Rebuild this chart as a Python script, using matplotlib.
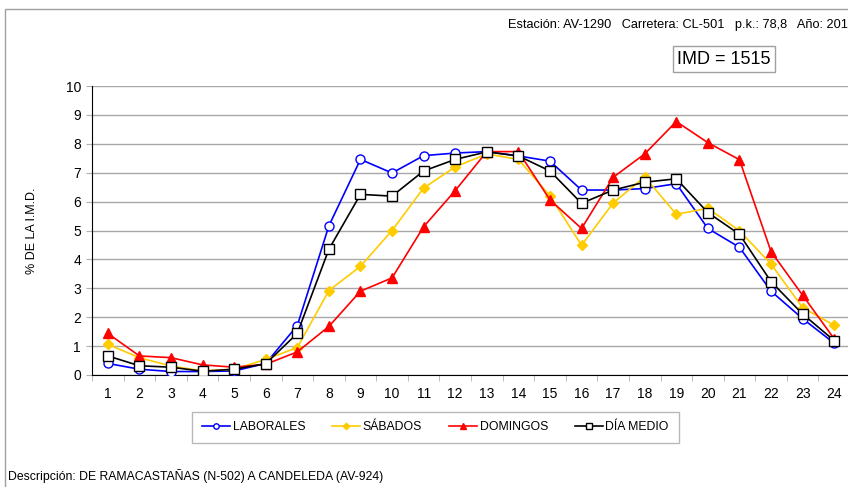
import numpy as np
import matplotlib
matplotlib.use("Agg")
from matplotlib import pyplot as plt
from matplotlib.patches import Rectangle

plt.rcParams["font.family"] = ["Liberation Sans", "DejaVu Sans"]

# Hourly traffic share (% of IMD)
hours = list(range(1, 25))
laborales = [0.40, 0.20, 0.12, 0.12, 0.14, 0.40, 1.71, 5.16, 7.46, 6.99, 7.59, 7.68,
             7.73, 7.58, 7.40, 6.40, 6.40, 6.45, 6.62, 5.07, 4.42, 2.90, 1.95, 1.10]
sabados = [1.06, 0.60, 0.31, 0.14, 0.20, 0.54, 0.95, 2.92, 3.76, 5.00, 6.47, 7.20,
           7.65, 7.46, 6.20, 4.49, 5.95, 6.86, 5.56, 5.77, 4.99, 3.84, 2.33, 1.72]
domingos = [1.44, 0.66, 0.60, 0.35, 0.27, 0.37, 0.80, 1.68, 2.90, 3.36, 5.13, 6.38,
            7.73, 7.73, 6.06, 5.07, 6.84, 7.65, 8.77, 8.04, 7.45, 4.27, 2.76, 1.25]
dia_medio = [0.66, 0.32, 0.27, 0.13, 0.20, 0.39, 1.44, 4.35, 6.25, 6.19, 7.06, 7.46,
             7.72, 7.58, 7.06, 5.94, 6.40, 6.67, 6.79, 5.62, 4.87, 3.23, 2.11, 1.19]

header = "Estación: AV-1290   Carretera: CL-501   p.k.: 78,8   Año: 201"
imd_text = "IMD = 1515"
descripcion = "Descripción: DE RAMACASTAÑAS (N-502) A CANDELEDA (AV-924)"

W, H = 848, 487
fig = plt.figure(figsize=(W / 100, H / 100), dpi=100)
fig.patches.append(Rectangle((5 / W, -0.1), 1.2, 1.1 - 9 / H, transform=fig.transFigure,
                             fill=False, edgecolor="#a0a0a0", linewidth=1.0))

ax = fig.add_axes([92 / W, 1 - 375 / H, 758 / W, 289 / H])

ax.plot(hours, laborales, color="#0000ff", lw=1.2, marker="o", ms=6.5,
        mfc="white", mec="#0000ff", mew=1.0, label="LABORALES", zorder=3)
ax.plot(hours, sabados, color="#ffcc00", lw=1.2, marker="D", ms=5.5,
        mfc="#ffcc00", mec="#ffcc00", label="SÁBADOS", zorder=3)
ax.plot(hours, domingos, color="#ff0000", lw=1.2, marker="^", ms=7,
        mfc="#ff0000", mec="#ff0000", label="DOMINGOS", zorder=3)
ax.plot(hours, dia_medio, color="black", lw=1.2, marker="s", ms=7,
        mfc="white", mec="black", mew=1.0, label="DÍA MEDIO", zorder=4)

ax.set_xlim(0.5, 24.5)
ax.set_ylim(0, 10)
ax.set_yticks(range(0, 11))
ax.set_xticks(hours)
ax.set_xticks(np.arange(0.5, 25, 1), minor=True)
ax.tick_params(axis="x", which="major", length=0, pad=9, labelsize=10)
ax.tick_params(axis="x", which="minor", length=4, color="#b0b0b0", direction="out")
ax.tick_params(axis="y", length=4, color="#b0b0b0", labelsize=10, pad=4)
ax.yaxis.grid(True, color="#a8a8a8", lw=1.0)
ax.set_axisbelow(True)
for s in ["top", "right"]:
    ax.spines[s].set_visible(False)
ax.spines["left"].set_color("black")
ax.spines["bottom"].set_color("black")
ax.set_ylabel("% DE LA I.M.D.", fontsize=9, labelpad=20)

leg = fig.legend(loc="center", bbox_to_anchor=(435.5 / W, 1 - 427.5 / H), ncol=4,
                 fontsize=8.8, frameon=True, fancybox=False, edgecolor="#a8a8a8",
                 handlelength=2.3, columnspacing=2.2, borderpad=0.8,
                 handletextpad=0.2, markerscale=0.6, borderaxespad=0)
leg.get_frame().set_linewidth(1.0)

fig.text(508 / W, 1 - 25 / H, header, fontsize=9.2, ha="left", va="center")
fig.text(724 / W, 1 - 59 / H, imd_text, fontsize=13, ha="center", va="center",
         bbox=dict(boxstyle="square,pad=0.25", fc="white", ec="#a0a0a0", lw=1.0))
fig.text(8 / W, 1 - 476 / H, descripcion, fontsize=8.8, ha="left", va="center")

fig.savefig("out.png", dpi=100)
